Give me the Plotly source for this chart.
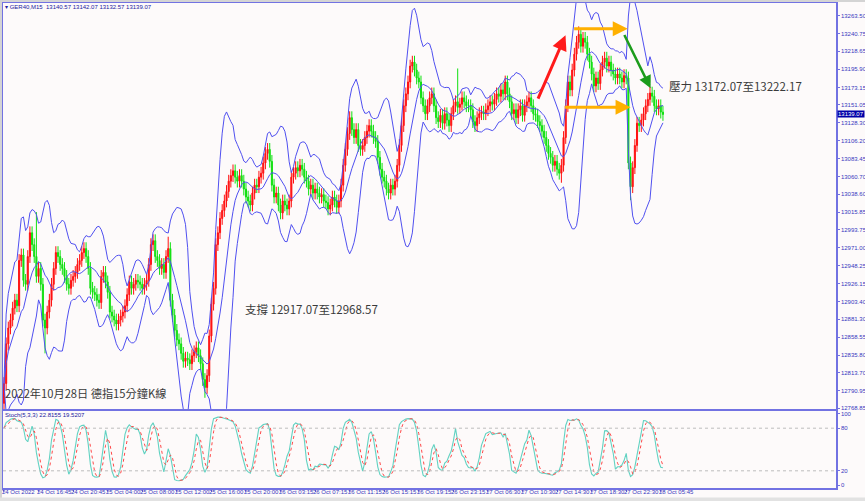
import plotly.graph_objects as go
import pandas as pd

# ---------------- data ----------------
closes = [
    12800, 12850, 12870, 12880, 12895, 12905, 12898, 12955, 12962, 12930,
    12925, 12960, 12990, 12975, 12960, 12935, 12945, 12925, 12880, 12870,
    12890, 12905, 12925, 12945, 12965, 12960, 12950, 12945, 12935, 12925,
    12920, 12930, 12935, 12940, 12950, 12955, 12965, 12970, 12960, 12945,
    12920, 12915, 12912, 12905, 12902, 12935, 12940, 12928, 12915, 12890,
    12885, 12880, 12875, 12880, 12885, 12890, 12898, 12912, 12928, 12920,
    12925, 12930, 12928, 12925, 12920, 12925, 12930, 12950, 12975, 12980,
    12960, 12955, 12945, 12950, 12940, 12960, 12970, 12905, 12886, 12867,
    12855, 12850, 12838, 12828, 12832, 12830, 12825, 12835, 12840, 12845,
    12835, 12825, 12805, 12795, 12810, 12860, 12900, 12920, 12975, 12990,
    13008, 13018, 13030, 13042, 13055, 13062, 13068, 13060, 13055, 13062,
    13055, 13045, 13035, 13030, 13025, 13040, 13050, 13048, 13060, 13065,
    13078, 13090, 13095, 13080, 13050, 13035, 13040, 13025, 13015, 13030,
    13025, 13020, 13030, 13060, 13065, 13072, 13068, 13075, 13070, 13060,
    13055, 13045, 13050, 13040, 13045, 13040, 13035, 13038, 13030, 13028,
    13020, 13025, 13035, 13030, 13022, 13030, 13050, 13075, 13095, 13115,
    13135, 13120, 13110, 13120, 13100, 13095, 13100, 13110, 13118, 13125,
    13118, 13110, 13105, 13085, 13070, 13060, 13055, 13045, 13040, 13050,
    13045, 13055, 13075, 13100, 13125, 13150, 13165, 13180, 13200, 13205,
    13195, 13185, 13180, 13160, 13150, 13140, 13150, 13160, 13165, 13150,
    13135, 13130, 13138, 13128, 13140, 13132, 13125, 13140, 13150, 13155,
    13148, 13152, 13160, 13155, 13150, 13150, 13145, 13130, 13125, 13135,
    13140, 13142, 13140, 13145, 13150, 13155, 13152, 13158, 13165, 13162,
    13170, 13165, 13180, 13165, 13155, 13140, 13145, 13135, 13145, 13150,
    13138, 13150, 13155, 13160, 13150, 13140, 13138, 13130, 13125, 13118,
    13110, 13100, 13090, 13085, 13075, 13080, 13070, 13065, 13075, 13110,
    13150, 13180, 13170, 13195, 13215, 13230, 13240, 13225, 13235, 13230,
    13215, 13205, 13190, 13175, 13185, 13178, 13195, 13205, 13210, 13200,
    13205, 13195, 13190, 13185, 13190, 13185, 13180, 13188, 13185, 13078,
    13048, 13072, 13100, 13128, 13125, 13132, 13140, 13150, 13158, 13166,
    13162, 13150, 13146, 13150, 13142, 13139.07,
]
first_open = 12775.0
wick = 8.0
high_spikes = {15: 13016, 76: 12985, 210: 13197, 266: 13250}
low_spikes = {0: 12770, 19: 12838, 93: 12782, 258: 13053, 290: 13031, 291: 13040}

time_labels = [
    "24 Oct 2022", "24 Oct 16:45", "24 Oct 20:45", "25 Oct 04:00", "25 Oct 08:00",
    "25 Oct 12:00", "25 Oct 16:00", "25 Oct 20:00", "26 Oct 03:15", "26 Oct 07:15",
    "26 Oct 11:15", "26 Oct 15:15", "26 Oct 19:15", "26 Oct 23:15", "27 Oct 06:30",
    "27 Oct 10:30", "27 Oct 14:30", "27 Oct 18:30", "27 Oct 22:30", "28 Oct 05:45",
]
bars_per_label = 16
price_ticks = [
    13263.50, 13240.75, 13218.65, 13195.90, 13173.15, 13151.05, 13128.30, 13106.20,
    13083.45, 13060.70, 13038.60, 13015.85, 12993.75, 12971.00, 12948.25, 12926.15,
    12903.40, 12881.30, 12858.55, 12835.80, 12813.70, 12790.95, 12768.85,
]
stoch_ticks = [0, 20, 80, 100]
last_price = 13139.07
bb_period, bb_dev = 10, 2.5
st_k, st_slow, st_d = 5, 3, 3

# ---------------- derived OHLC and indicators ----------------
n = len(closes)
bars = list(range(n))
opens = [first_open] + closes[:-1]
highs = [max(o, c) + wick for o, c in zip(opens, closes)]
lows = [min(o, c) - wick for o, c in zip(opens, closes)]
for i, v in high_spikes.items():
    highs[i] = max(highs[i], v)
for i, v in low_spikes.items():
    lows[i] = min(lows[i], v)

s = pd.Series(closes, dtype=float)
mid = s.rolling(bb_period, min_periods=1).mean()
sd = s.rolling(bb_period, min_periods=1).std(ddof=0)
upper = mid + bb_dev * sd
lower = mid - bb_dev * sd

h = pd.Series(highs, dtype=float)
l = pd.Series(lows, dtype=float)
hh = h.rolling(st_k, min_periods=1).max()
ll = l.rolling(st_k, min_periods=1).min()
num = (s - ll).rolling(st_slow, min_periods=1).sum()
den = (hh - ll).rolling(st_slow, min_periods=1).sum()
k_line = 100 * num / den
d_line = k_line.rolling(st_d, min_periods=1).mean()

# ---------------- styling ----------------
BG = "#fdfafa"
FRAME = "#7272e2"
BAND = "#5050f0"
AXTXT = "#3838c0"
UP = "#ff1010"
DOWN = "#10e010"
NARROW = "Liberation Sans Narrow, Liberation Sans, sans-serif"
SMALL = dict(family=NARROW, size=6, color=AXTXT)
CJK = "Noto Sans CJK TC"

fig = go.Figure()
fig.add_trace(go.Candlestick(
    x=bars, open=opens, high=highs, low=lows, close=closes,
    increasing=dict(line=dict(color=UP, width=1), fillcolor=UP),
    decreasing=dict(line=dict(color=DOWN, width=1), fillcolor=DOWN),
    whiskerwidth=0, xaxis="x", yaxis="y", hoverinfo="skip",
))
for series in (upper, mid, lower):
    fig.add_trace(go.Scatter(x=bars, y=series, mode="lines",
                             line=dict(color=BAND, width=1),
                             xaxis="x", yaxis="y", hoverinfo="skip"))
fig.add_trace(go.Scatter(x=bars, y=k_line, mode="lines",
                         line=dict(color="#62d2c2", width=1.1),
                         xaxis="x2", yaxis="y2", hoverinfo="skip"))
fig.add_trace(go.Scatter(x=bars, y=d_line, mode="lines",
                         line=dict(color="#ff4848", width=1, dash="dot"),
                         xaxis="x2", yaxis="y2", hoverinfo="skip"))

x_range = [-0.46, 385.1]
tick_bars = [bars_per_label * i for i in range(len(time_labels))]

fig.update_layout(
    width=865, height=501,
    margin=dict(l=3, r=29, t=3, b=13, autoexpand=False),
    paper_bgcolor=BG, plot_bgcolor=BG,
    showlegend=False,
    xaxis=dict(domain=[0, 1], anchor="y", range=x_range, showticklabels=False,
               automargin=False,
               showgrid=False, zeroline=False, rangeslider=dict(visible=False),
               showline=True, linecolor=FRAME, linewidth=2, mirror=True, ticks=""),
    yaxis=dict(domain=[0.1629, 1], anchor="x", side="right",
               range=[12767.9, 13279.5], automargin=False,
               tickvals=price_ticks, ticktext=[f"{v:.2f}" for v in price_ticks],
               tickfont=SMALL, ticks="outside", ticklen=2, tickcolor=FRAME,
               showgrid=False, zeroline=False,
               showline=True, linecolor=FRAME, linewidth=1.5, mirror=True),
    xaxis2=dict(domain=[0, 1], anchor="y2", matches="x", range=x_range,
                automargin=False,
                tickvals=tick_bars, showticklabels=False, ticks="outside",
                ticklen=2, tickcolor=FRAME, showgrid=False, zeroline=False,
                showline=True, linecolor=FRAME, linewidth=1.5, mirror=True),
    yaxis2=dict(domain=[0, 0.15876], anchor="x2", side="right",
                range=[-4.2, 104.2], tickvals=stoch_ticks, automargin=False,
                ticktext=[str(v) for v in stoch_ticks],
                tickfont=SMALL, ticks="outside", ticklen=2, tickcolor=FRAME,
                showgrid=False, zeroline=False,
                showline=True, linecolor=FRAME, linewidth=1.5, mirror=True),
)

# stochastic level lines
for lvl in (20, 80):
    fig.add_shape(type="line", xref="paper", x0=0, x1=1, yref="y2", y0=lvl, y1=lvl,
                  line=dict(color="#bdbdbd", width=1, dash="dot"))

# window chrome strips
fig.add_shape(type="rect", xref="paper", yref="paper", x0=-0.0036, x1=-0.0012,
              y0=-0.03, y1=1.007, fillcolor="#d4d4d4", line=dict(width=0), layer="above")
fig.add_shape(type="rect", xref="paper", yref="paper", x0=-0.0036, x1=1.04,
              y0=1.0021, y1=1.007, fillcolor="#d4d4d4", line=dict(width=0), layer="above")
fig.add_shape(type="rect", xref="paper", yref="paper", x0=-0.0036, x1=1.04,
              y0=-0.03, y1=-0.0195, fillcolor="#e2e2e2", line=dict(width=0), layer="above")

# time axis labels (left aligned, MT4 style)
for b, lab in zip(tick_bars, time_labels):
    fig.add_annotation(x=b, xref="x2", y=0, yref="paper", text=lab, showarrow=False,
                       xanchor="left", yanchor="top", xshift=-3, yshift=0,
                       borderpad=0, font=SMALL)

# current price box
fig.add_annotation(x=1, xref="paper", y=last_price, yref="y", text=f"{last_price:.2f}",
                   showarrow=False, xanchor="left", yanchor="middle", xshift=1,
                   bgcolor="#0000a8", borderpad=0,
                   font=dict(family=NARROW, size=6, color="white"))

# headers
fig.add_annotation(x=0, xref="paper", y=1, yref="paper",
                   text="▾ GER40,M15  13140.57 13142.07 13132.57 13139.07",
                   showarrow=False, xanchor="left", yanchor="top", xshift=1, yshift=0,
                   borderpad=0, font=dict(family=NARROW, size=6, color="#2020a0"))
fig.add_annotation(x=0, xref="paper", y=0.15876, yref="paper",
                   text="Stoch(5,3,3) 22.8155 19.5207",
                   showarrow=False, xanchor="left", yanchor="top", xshift=1, yshift=0,
                   borderpad=0, font=dict(family=NARROW, size=6, color="#2020a0"))

# chinese texts
fig.add_annotation(x=0.797, xref="paper", y=0.829, yref="paper",
                   text="壓力 13172.07至13222.17", showarrow=False,
                   xanchor="left", yanchor="middle",
                   font=dict(family=CJK, size=11.5, color="#3a3a3a"))
fig.add_annotation(x=0.288, xref="paper", y=0.369, yref="paper",
                   text="支撐 12917.07至12968.57", showarrow=False,
                   xanchor="left", yanchor="middle",
                   font=dict(family=CJK, size=11.5, color="#3a3a3a"))
fig.add_annotation(x=0.0, xref="paper", y=0.19, yref="paper",
                   text="2022年10月28日 德指15分鐘K線", showarrow=False,
                   xanchor="left", yanchor="middle", yshift=3,
                   font=dict(family=CJK, size=11.2, color="#3a3a3a"))

# arrows (head at x/y, tail at ax/ay)
arrows = [
    dict(x=259.9, y=13239, ax=246.9, ay=13157, color="#ff1a1a", w=3),
    dict(x=288.7, y=13247, ax=263.2, ay=13247, color="#ffb000", w=3),
    dict(x=290.0, y=13148, ax=259.0, ay=13148, color="#ffb000", w=3),
    dict(x=299.3, y=13172, ax=286.8, ay=13241, color="#1c9c1c", w=2.5),
]
for a in arrows:
    fig.add_annotation(x=a["x"], y=a["y"], xref="x", yref="y",
                       ax=a["ax"], ay=a["ay"], axref="x", ayref="y",
                       text="", showarrow=True, arrowhead=2, arrowsize=1,
                       arrowwidth=a["w"], arrowcolor=a["color"])

fig.write_html(
    "out.html",
    config=dict(displayModeBar=False),
    post_script="document.body.style.margin='0';document.body.style.overflow='hidden';",
)
